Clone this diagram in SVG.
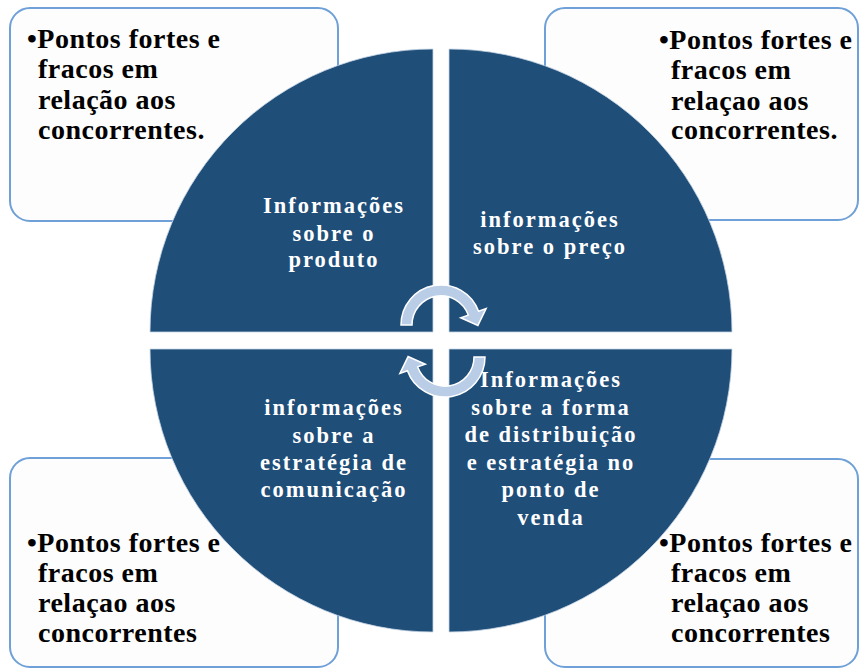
<svg xmlns="http://www.w3.org/2000/svg" width="860" height="668" viewBox="0 0 860 668">
  <style>
    .box { fill: #fdfdfd; stroke: #6fa0d8; stroke-width: 2; }
    .btxt { font-family: "Liberation Serif", "Times New Roman", serif; font-weight: bold; font-size: 28px; letter-spacing: 0.5px; fill: #000; }
    .quad { fill: #1f4e79; stroke: #c7d5e6; stroke-width: 0.8; }
    .qtxt { font-family: "Liberation Serif", "Times New Roman", serif; font-weight: bold; font-size: 22.5px; letter-spacing: 2px; fill: #fff; text-anchor: middle; }
    .arrow { fill: #b9cde6; stroke: #fff; stroke-width: 1.5; stroke-linejoin: miter; }
  </style>
  <rect width="860" height="668" fill="#fff"/>

  <g id="box-top-left">
    <rect class="box" x="10" y="8" width="328" height="213" rx="20"/>
    <text class="btxt"><tspan x="27" y="48">•Pontos fortes e</tspan><tspan x="38" y="78">fracos em</tspan><tspan x="38" y="109">relação aos</tspan><tspan x="38" y="139">concorrentes.</tspan></text>
  </g>
  <g id="box-top-right">
    <rect class="box" x="545" y="8" width="313" height="212" rx="20"/>
    <text class="btxt"><tspan x="659" y="49">•Pontos fortes e</tspan><tspan x="671" y="79">fracos em</tspan><tspan x="671" y="110">relaçao aos</tspan><tspan x="671" y="139">concorrentes.</tspan></text>
  </g>
  <g id="box-bottom-left">
    <rect class="box" x="10" y="458" width="328" height="209" rx="20"/>
    <text class="btxt"><tspan x="27" y="552">•Pontos fortes e</tspan><tspan x="38" y="582">fracos em</tspan><tspan x="38" y="612">relaçao aos</tspan><tspan x="38" y="642">concorrentes</tspan></text>
  </g>
  <g id="box-bottom-right">
    <rect class="box" x="545" y="459" width="313" height="208" rx="20"/>
    <text class="btxt"><tspan x="659" y="552">•Pontos fortes e</tspan><tspan x="671" y="582">fracos em</tspan><tspan x="671" y="612">relaçao aos</tspan><tspan x="671" y="642">concorrentes</tspan></text>
  </g>

  <g id="quad-produto">
    <path class="quad" d="M433 332 L150 332 A283 283 0 0 1 433 49 Z"/>
    <text class="qtxt"><tspan x="334" y="213">Informações</tspan><tspan x="334" y="241">sobre o</tspan><tspan x="334" y="267">produto</tspan></text>
  </g>
  <g id="quad-preco">
    <path class="quad" d="M449 332 L449 49 A283 283 0 0 1 732 332 Z"/>
    <text class="qtxt"><tspan x="550" y="227">informações</tspan><tspan x="550" y="254">sobre o preço</tspan></text>
  </g>
  <g id="quad-comunicacao">
    <path class="quad" d="M433 349 L433 632 A283 283 0 0 1 150 349 Z"/>
    <text class="qtxt"><tspan x="334" y="415">informações</tspan><tspan x="334" y="443">sobre a</tspan><tspan x="334" y="470">estratégia de</tspan><tspan x="334" y="497">comunicação</tspan></text>
  </g>
  <g id="quad-distribuicao">
    <path class="quad" d="M449 349 L732 349 A283 283 0 0 1 449 632 Z"/>
    <text class="qtxt"><tspan x="551" y="387">Informações</tspan><tspan x="551" y="415">sobre a forma</tspan><tspan x="551" y="442">de distribuição</tspan><tspan x="551" y="470">e estratégia no</tspan><tspan x="551" y="497">ponto de</tspan><tspan x="551" y="525">venda</tspan></text>
  </g>

  <g id="connectors">
    <path id="arrow-top" class="arrow" d="M401 325 A40 40 0 0 1 478.6 311.3 L486.1 308.6 L477.9 325.4 L460.7 317.8 L468.3 315.1 A29 29 0 0 0 412 325 Z"/>
    <path id="arrow-bottom" class="arrow" transform="rotate(180 443 341)" d="M401 325 A40 40 0 0 1 478.6 311.3 L486.1 308.6 L477.9 325.4 L460.7 317.8 L468.3 315.1 A29 29 0 0 0 412 325 Z"/>
  </g>
</svg>
